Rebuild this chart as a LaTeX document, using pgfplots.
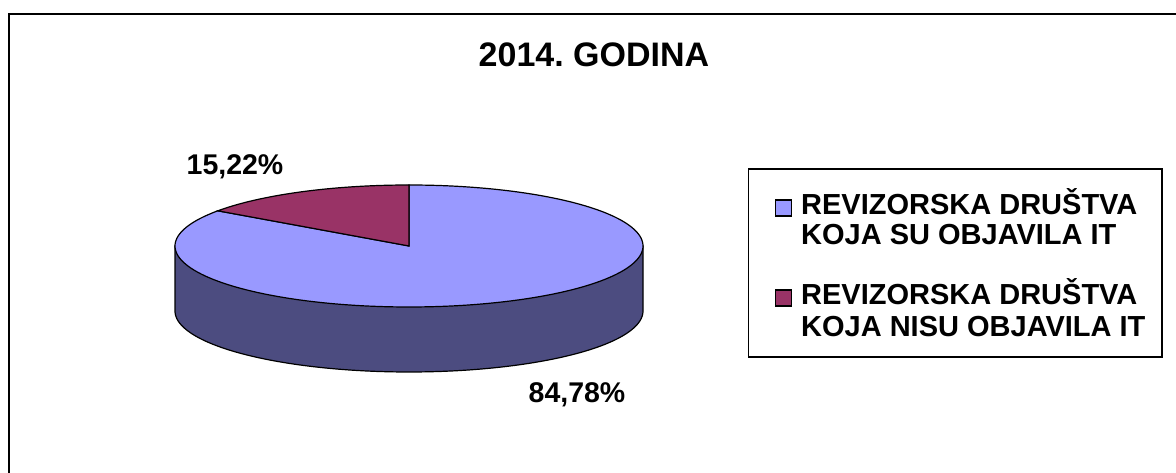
\documentclass[border=0pt]{standalone}
\usepackage{fontspec}
\setmainfont{Liberation Sans}
\usepackage{pgfplots}
\pgfplotsset{compat=1.18}
\definecolor{sliceA}{RGB}{153,153,255}
\definecolor{sliceB}{RGB}{153,51,102}
\definecolor{sideA}{RGB}{76,76,128}
% data (percent)
\def\valA{84.78}% REVIZORSKA DRUSTVA KOJA SU OBJAVILA IT
\def\valB{15.22}% REVIZORSKA DRUSTVA KOJA NISU OBJAVILA IT
\frenchspacing
\begin{document}
\begin{tikzpicture}
\useasboundingbox (0,0) rectangle (1176pt,473pt);
\pgfmathsetmacro{\angB}{90+3.6*\valB}
\pgfmathsetmacro{\endA}{\angB+3.6*\valA}
\begin{axis}[at={(0,0)}, anchor=south west, scale only axis,
  width=1176pt, height=473pt, xmin=0, xmax=1176, ymin=0, ymax=473,
  hide axis, clip=false]
% outer frame
\draw[line width=2pt] (axis cs:8.5,-5) -- (axis cs:8.5,458.5) -- (axis cs:1185,458.5);
% side of pie
\addplot[fill=sideA, draw=black, line width=1.2pt, domain=180:360, samples=150]
  ({409+234*cos(x)},{162+61*sin(x)}) -- (axis cs:643,227) -- (axis cs:175,227) -- cycle;
% top face
\addplot[fill=sliceA, draw=black, line width=1.2pt, domain=\angB:\endA, samples=250]
  ({409+234*cos(x)},{227+61*sin(x)}) -- (axis cs:409,227) -- cycle;
\addplot[fill=sliceB, draw=black, line width=1.2pt, domain=90:\angB, samples=60]
  ({409+234*cos(x)},{227+61*sin(x)}) -- (axis cs:409,227) -- cycle;
% labels
\node[anchor=base, inner sep=0, font=\fontsize{34}{36}\selectfont\bfseries] at (axis cs:594,406) {2014. GODINA};
\node[anchor=base, inner sep=0, font=\fontsize{28.5}{30}\selectfont\bfseries] at (axis cs:235,298) {15,22\%};
\node[anchor=base, inner sep=0, font=\fontsize{28.5}{30}\selectfont\bfseries] at (axis cs:577,70) {84,78\%};
% legend
\draw[line width=1.5pt, fill=white] (axis cs:748.5,116) rectangle (axis cs:1162,304);
\draw[line width=1.2pt, fill=sliceA] (axis cs:775.5,257) rectangle (axis cs:791.5,273);
\draw[line width=1.2pt, fill=sliceB] (axis cs:775.5,167) rectangle (axis cs:791.5,183);
\node[anchor=base west, inner sep=0, font=\fontsize{29}{30}\selectfont\bfseries] at (axis cs:801,258) {REVIZORSKA DRUŠTVA};
\node[anchor=base west, inner sep=0, font=\fontsize{29}{30}\selectfont\bfseries] at (axis cs:801,228) {KOJA SU OBJAVILA IT};
\node[anchor=base west, inner sep=0, font=\fontsize{29}{30}\selectfont\bfseries] at (axis cs:801,168) {REVIZORSKA DRUŠTVA};
\node[anchor=base west, inner sep=0, font=\fontsize{29}{30}\selectfont\bfseries] at (axis cs:801,136) {KOJA NISU OBJAVILA IT};
\end{axis}
\end{tikzpicture}
\end{document}
